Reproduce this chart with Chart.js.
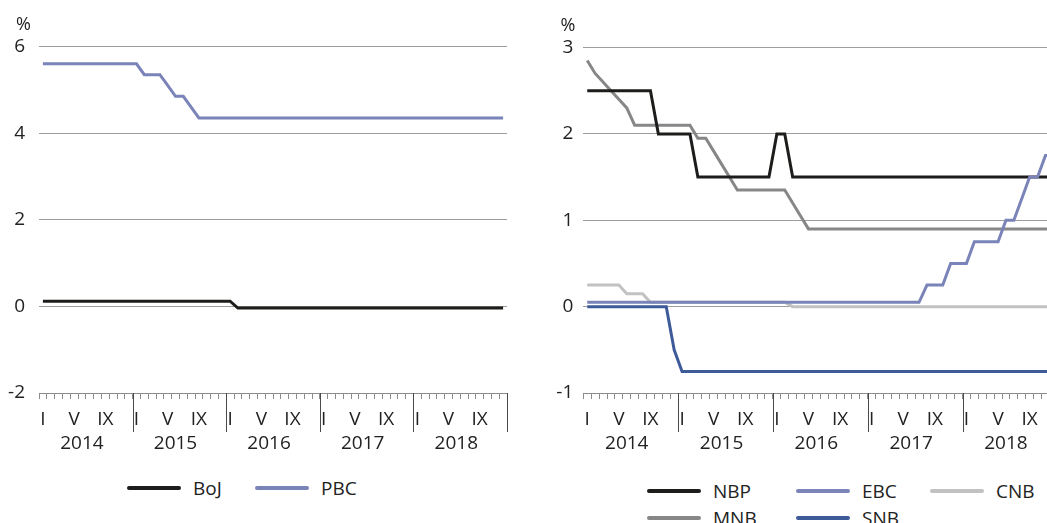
<!DOCTYPE html>
<html>
<head>
<meta charset="utf-8">
<script src="https://cdn.jsdelivr.net/npm/chart.js@4.4.0/dist/chart.umd.min.js"></script>
<style>
  html, body { margin: 0; padding: 0; background: #fff; overflow: hidden; }
  #page { position: relative; width: 1047px; height: 523px; overflow: hidden; font-family: "Open Sans", sans-serif; color: #222; }
  #page canvas { position: absolute; top: 0; }
  #leftChart { left: 0; }
  #rightChart { left: 540px; }
  .legend-item { position: absolute; display: flex; align-items: center; font-size: 19px; line-height: 24px; white-space: nowrap; }
  .swatch { width: 54px; height: 4px; margin-right: 12px; border-radius: 2px; }
</style>
</head>
<body>
<div id="page">
  <canvas id="leftChart" width="520" height="460"></canvas>
  <canvas id="rightChart" width="530" height="460"></canvas>
</div>
<script>
// axis labels
const years = ['2014', '2015', '2016', '2017', '2018'];
const romanMarks = { 0: 'I', 4: 'V', 8: 'IX' };
const yearLabelMonth = 5; // year caption sits under June

// monthly policy rates, Jan 2014 - Dec 2018 (60 months)
const bojRate = [
  0.12, 0.12, 0.12, 0.12, 0.12, 0.12, 0.12, 0.12, 0.12, 0.12, 0.12, 0.12,
  0.12, 0.12, 0.12, 0.12, 0.12, 0.12, 0.12, 0.12, 0.12, 0.12, 0.12, 0.12,
  0.12, -0.04, -0.04, -0.04, -0.04, -0.04, -0.04, -0.04, -0.04, -0.04, -0.04, -0.04,
  -0.04, -0.04, -0.04, -0.04, -0.04, -0.04, -0.04, -0.04, -0.04, -0.04, -0.04, -0.04,
  -0.04, -0.04, -0.04, -0.04, -0.04, -0.04, -0.04, -0.04, -0.04, -0.04, -0.04, -0.04
];
const pbcRate = [
  5.6, 5.6, 5.6, 5.6, 5.6, 5.6, 5.6, 5.6, 5.6, 5.6, 5.6, 5.6,
  5.6, 5.35, 5.35, 5.35, 5.1, 4.85, 4.85, 4.6, 4.35, 4.35, 4.35, 4.35,
  4.35, 4.35, 4.35, 4.35, 4.35, 4.35, 4.35, 4.35, 4.35, 4.35, 4.35, 4.35,
  4.35, 4.35, 4.35, 4.35, 4.35, 4.35, 4.35, 4.35, 4.35, 4.35, 4.35, 4.35,
  4.35, 4.35, 4.35, 4.35, 4.35, 4.35, 4.35, 4.35, 4.35, 4.35, 4.35, 4.35
];
const nbpRate = [
  2.5, 2.5, 2.5, 2.5, 2.5, 2.5, 2.5, 2.5, 2.5, 2.0, 2.0, 2.0,
  2.0, 2.0, 1.5, 1.5, 1.5, 1.5, 1.5, 1.5, 1.5, 1.5, 1.5, 1.5,
  2.0, 2.0, 1.5, 1.5, 1.5, 1.5, 1.5, 1.5, 1.5, 1.5, 1.5, 1.5,
  1.5, 1.5, 1.5, 1.5, 1.5, 1.5, 1.5, 1.5, 1.5, 1.5, 1.5, 1.5,
  1.5, 1.5, 1.5, 1.5, 1.5, 1.5, 1.5, 1.5, 1.5, 1.5, 1.5, 1.5
];
const mnbRate = [
  2.85, 2.7, 2.6, 2.5, 2.4, 2.3, 2.1, 2.1, 2.1, 2.1, 2.1, 2.1,
  2.1, 2.1, 1.95, 1.95, 1.8, 1.65, 1.5, 1.35, 1.35, 1.35, 1.35, 1.35,
  1.35, 1.35, 1.2, 1.05, 0.9, 0.9, 0.9, 0.9, 0.9, 0.9, 0.9, 0.9,
  0.9, 0.9, 0.9, 0.9, 0.9, 0.9, 0.9, 0.9, 0.9, 0.9, 0.9, 0.9,
  0.9, 0.9, 0.9, 0.9, 0.9, 0.9, 0.9, 0.9, 0.9, 0.9, 0.9, 0.9
];
const snbRate = [
  0, 0, 0, 0, 0, 0, 0, 0, 0, 0, 0, -0.5,
  -0.75, -0.75, -0.75, -0.75, -0.75, -0.75, -0.75, -0.75, -0.75, -0.75, -0.75, -0.75,
  -0.75, -0.75, -0.75, -0.75, -0.75, -0.75, -0.75, -0.75, -0.75, -0.75, -0.75, -0.75,
  -0.75, -0.75, -0.75, -0.75, -0.75, -0.75, -0.75, -0.75, -0.75, -0.75, -0.75, -0.75,
  -0.75, -0.75, -0.75, -0.75, -0.75, -0.75, -0.75, -0.75, -0.75, -0.75, -0.75, -0.75
];
// series drawn in the EBC legend colour (rising line)
const ebcRate = [
  0.05, 0.05, 0.05, 0.05, 0.05, 0.05, 0.05, 0.05, 0.05, 0.05, 0.05, 0.05,
  0.05, 0.05, 0.05, 0.05, 0.05, 0.05, 0.05, 0.05, 0.05, 0.05, 0.05, 0.05,
  0.05, 0.05, 0.05, 0.05, 0.05, 0.05, 0.05, 0.05, 0.05, 0.05, 0.05, 0.05,
  0.05, 0.05, 0.05, 0.05, 0.05, 0.05, 0.05, 0.25, 0.25, 0.25, 0.5, 0.5,
  0.5, 0.75, 0.75, 0.75, 0.75, 1.0, 1.0, 1.25, 1.5, 1.5, 1.75, 1.75
];
// series drawn in the CNB legend colour (light grey)
const cnbRate = [
  0.25, 0.25, 0.25, 0.25, 0.25, 0.15, 0.15, 0.15, 0.05, 0.05, 0.05, 0.05,
  0.05, 0.05, 0.05, 0.05, 0.05, 0.05, 0.05, 0.05, 0.05, 0.05, 0.05, 0.05,
  0.05, 0.05, 0, 0, 0, 0, 0, 0, 0, 0, 0, 0,
  0, 0, 0, 0, 0, 0, 0, 0, 0, 0, 0, 0,
  0, 0, 0, 0, 0, 0, 0, 0, 0, 0, 0, 0
];

const monthKeys = years.flatMap(y => Array.from({ length: 12 }, (_, m) => `${y}-${m + 1}`));

Chart.defaults.font.family = '"Open Sans", sans-serif';
Chart.defaults.color = '#222';

function tickLabel(index) {
  const m = index % 12;
  const mark = romanMarks[m] || '';
  if (m === yearLabelMonth) return [mark, years[Math.floor(index / 12)]];
  return mark;
}

// long separators between years under the x axis
const yearLines = {
  id: 'yearLines',
  afterDraw(chart) {
    const x = chart.scales.x;
    const ctx = chart.ctx;
    ctx.save();
    ctx.strokeStyle = '#4a4a4a';
    ctx.lineWidth = 1;
    for (let i = 12; i <= x.ticks.length; i += 12) {
      const px = Math.round(x.getPixelForValue(i - 0.5)) + 0.5;
      ctx.beginPath();
      ctx.moveTo(px, x.top);
      ctx.lineTo(px, x.top + 39);
      ctx.stroke();
    }
    ctx.restore();
  }
};

// "%" unit above the value axis
const unitLabel = {
  id: 'unitLabel',
  afterDraw(chart) {
    const y = chart.scales.y;
    const ctx = chart.ctx;
    ctx.save();
    ctx.font = '18px "Open Sans", sans-serif';
    ctx.fillStyle = '#222';
    ctx.textAlign = 'right';
    ctx.textBaseline = 'middle';
    ctx.fillText('%', y.right - 8, chart.chartArea.top - 22);
    ctx.restore();
  }
};

function makeChart(id, datasets, yMin, yMax, yStep, axisWidth, labelPad, padTop, padRight) {
  return new Chart(document.getElementById(id), {
    type: 'line',
    data: { labels: monthKeys, datasets: datasets },
    options: {
      responsive: false,
      animation: false,
      layout: { padding: { top: padTop, right: padRight, bottom: 0, left: 0 } },
      plugins: { legend: { display: false }, tooltip: { enabled: false } },
      elements: { point: { radius: 0 }, line: { borderWidth: 3, tension: 0 } },
      scales: {
        x: {
          type: 'category',
          offset: true,
          grid: { offset: true, drawOnChartArea: false, color: '#8c8c8c', tickLength: 6 },
          border: { color: '#8c8c8c' },
          ticks: {
            autoSkip: false,
            maxRotation: 0,
            padding: 9,
            font: { size: 19, lineHeight: 1.25 },
            callback: (v, i) => tickLabel(i)
          },
          afterFit: s => { s.height = 67; }
        },
        y: {
          min: yMin,
          max: yMax,
          ticks: { stepSize: yStep, padding: labelPad, font: { size: 19 } },
          grid: { color: '#9d9d9d', drawTicks: false },
          border: { display: false },
          afterFit: s => { s.width = axisWidth; }
        }
      }
    },
    plugins: [yearLines, unitLabel]
  });
}

const leftSets = [
  { label: 'BoJ', data: bojRate, borderColor: '#1d1d1b' },
  { label: 'PBC', data: pbcRate, borderColor: '#7a84b8' }
];
const rightSets = [
  { label: 'NBP', data: nbpRate, borderColor: '#1d1d1b', order: 1 },
  { label: 'EBC', data: ebcRate, borderColor: '#7a84b8', order: 0 },
  { label: 'CNB', data: cnbRate, borderColor: '#c2c2c2', order: 3 },
  { label: 'MNB', data: mnbRate, borderColor: '#878787', order: 2 },
  { label: 'SNB', data: snbRate, borderColor: '#3d5a99', order: 4 }
];

makeChart('leftChart', leftSets, -2, 6, 2, 39, 14, 46.5, 13);
makeChart('rightChart', rightSets, -1, 3, 1, 43.3, 10, 47.5, 12.7);

// legends placed under each panel
const legendSpots = {
  BoJ: [127, 488], PBC: [255, 488],
  NBP: [647, 491], EBC: [796, 491], CNB: [930, 491],
  MNB: [647, 518], SNB: [796, 518]
};
const page = document.getElementById('page');
[...leftSets, ...rightSets].forEach(ds => {
  const [lx, ly] = legendSpots[ds.label];
  const item = document.createElement('div');
  item.className = 'legend-item';
  item.style.left = lx + 'px';
  item.style.top = (ly - 12) + 'px';
  const sw = document.createElement('span');
  sw.className = 'swatch';
  sw.style.background = ds.borderColor;
  const tx = document.createElement('span');
  tx.textContent = ds.label;
  item.appendChild(sw);
  item.appendChild(tx);
  page.appendChild(item);
});
</script>
</body>
</html>
